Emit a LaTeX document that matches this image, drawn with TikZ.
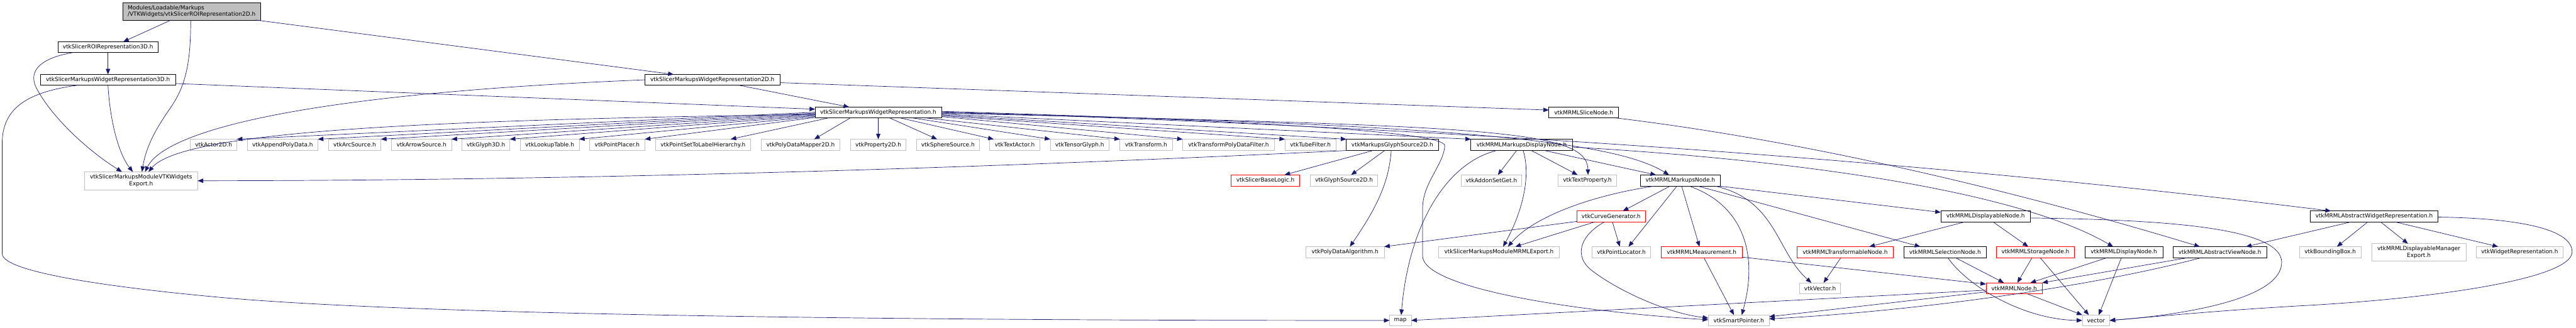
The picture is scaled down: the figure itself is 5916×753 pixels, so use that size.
\documentclass[tikz,border=0pt]{standalone}
\usepackage{fontspec}
\usetikzlibrary{arrows.meta}
\newfontfamily\dfont{DejaVu Sans}
\definecolor{edgec}{HTML}{191970}
\definecolor{grayc}{HTML}{BFBFBF}
\definecolor{rootfill}{HTML}{BFBFBF}
\definecolor{redc}{HTML}{FF0000}
\newcommand{\mkn}[7]{\node[#1, minimum width={(#5-#3)*0.75pt}, minimum height={(#6-#4)*0.75pt}] (#2) at ({(#3+#5)/2},{(#4+#6)/2}) {#7};}
\tikzset{
  base/.style={rectangle, inner sep=0pt, outer sep=0pt, line width=0.75pt, text=black, align=center,
    font={\dfont\fontsize{9.7}{11.6}\selectfont}},
  blk/.style={base, draw=black},
  gry/.style={base, draw=grayc},
  redbox/.style={base, draw=redc},
  root/.style={base, draw=black, fill=rootfill, align=left},
  dep/.style={draw=edgec, line width=0.75pt, -{Triangle[length=9.5pt,width=7.5pt]}, edgec}
}
\begin{document}
\begin{tikzpicture}[x=0.75pt,y=-0.75pt]
\fill[white] (0,0) rectangle (5916,753);
\useasboundingbox (0,0) rectangle (5916,753);
% ---- nodes
\mkn{root}{T}{282}{6}{598}{46}{Modules/Loadable/Markups\\/VTKWidgets/vtkSlicerROIRepresentation2D.h}
\mkn{blk}{ROI3D}{133}{96}{363}{121}{vtkSlicerROIRepresentation3D.h}
\mkn{blk}{W3D}{93}{171}{403}{196}{vtkSlicerMarkupsWidgetRepresentation3D.h}
\mkn{blk}{W2D}{1481}{171}{1791}{196}{vtkSlicerMarkupsWidgetRepresentation2D.h}
\mkn{blk}{WR}{1872}{246}{2162}{271}{vtkSlicerMarkupsWidgetRepresentation.h}
\mkn{blk}{SLN}{3557}{246}{3717}{271}{vtkMRMLSliceNode.h}
% leaf row
\mkn{gry}{ACT}{437}{320}{544}{346}{vtkActor2D.h}
\mkn{gry}{APD}{568}{320}{730}{346}{vtkAppendPolyData.h}
\mkn{gry}{ARC}{754}{320}{875}{346}{vtkArcSource.h}
\mkn{gry}{ARW}{899}{320}{1037}{346}{vtkArrowSource.h}
\mkn{gry}{GL3}{1061}{320}{1171}{346}{vtkGlyph3D.h}
\mkn{gry}{LUT}{1195}{320}{1330}{346}{vtkLookupTable.h}
\mkn{gry}{PPL}{1354}{320}{1481}{346}{vtkPointPlacer.h}
\mkn{gry}{PSL}{1505}{320}{1724}{346}{vtkPointSetToLabelHierarchy.h}
\mkn{gry}{PDM}{1748}{320}{1929}{346}{vtkPolyDataMapper2D.h}
\mkn{gry}{PR2}{1953}{320}{2081}{346}{vtkProperty2D.h}
\mkn{gry}{SPH}{2105}{320}{2249}{346}{vtkSphereSource.h}
\mkn{gry}{TXA}{2273}{320}{2388}{346}{vtkTextActor.h}
\mkn{gry}{TEN}{2412}{320}{2547}{346}{vtkTensorGlyph.h}
\mkn{gry}{TRF}{2572}{320}{2692}{346}{vtkTransform.h}
\mkn{gry}{TPF}{2716}{320}{2927}{346}{vtkTransformPolyDataFilter.h}
\mkn{gry}{TUB}{2951}{320}{3068}{346}{vtkTubeFilter.h}
\mkn{blk}{MGS}{3092}{320}{3303}{346}{vtkMarkupsGlyphSource2D.h}
\mkn{blk}{MDN}{3378}{320}{3611}{346}{vtkMRMLMarkupsDisplayNode.h}
\mkn{gry}{EXP}{194}{395}{454}{436}{vtkSlicerMarkupsModuleVTKWidgets\\Export.h}
% row 402
\mkn{redbox}{SBL}{2827}{402}{2985}{428}{vtkSlicerBaseLogic.h}
\mkn{gry}{GS2}{3009}{402}{3164}{428}{vtkGlyphSource2D.h}
\mkn{gry}{ASG}{3355}{402}{3495}{428}{vtkAddonSetGet.h}
\mkn{gry}{TPR}{3578}{402}{3713}{428}{vtkTextProperty.h}
\mkn{blk}{MN}{3767}{402}{3951}{428}{vtkMRMLMarkupsNode.h}
% row 485
\mkn{redbox}{CG}{3621}{485}{3779}{510}{vtkCurveGenerator.h}
\mkn{blk}{DAN}{4457}{485}{4663}{510}{vtkMRMLDisplayableNode.h}
\mkn{blk}{AWR}{5306}{485}{5599}{510}{vtkMRMLAbstractWidgetRepresentation.h}
% row 567
\mkn{gry}{PDA}{2999}{567}{3179}{592}{vtkPolyDataAlgorithm.h}
\mkn{gry}{MEX}{3304}{567}{3581}{592}{vtkSlicerMarkupsModuleMRMLExport.h}
\mkn{gry}{PLC}{3656}{567}{3791}{592}{vtkPointLocator.h}
\mkn{redbox}{MEA}{3815}{567}{4001}{592}{vtkMRMLMeasurement.h}
\mkn{redbox}{TRN}{4127}{567}{4348}{592}{vtkMRMLTransformableNode.h}
\mkn{blk}{SEL}{4372}{567}{4562}{592}{vtkMRMLSelectionNode.h}
\mkn{redbox}{STO}{4585}{567}{4764}{592}{vtkMRMLStorageNode.h}
\mkn{blk}{DSN}{4788}{567}{4967}{592}{vtkMRMLDisplayNode.h}
\mkn{blk}{AVN}{4990}{567}{5206}{592}{vtkMRMLAbstractViewNode.h}
\mkn{gry}{BBX}{5281}{567}{5422}{592}{vtkBoundingBox.h}
\mkn{gry}{DME}{5447}{560}{5663}{600}{vtkMRMLDisplayableManager\\Export.h}
\mkn{gry}{WRP}{5687}{567}{5886}{592}{vtkWidgetRepresentation.h}
% row 650
\mkn{gry}{VEC}{4133}{650}{4227}{675}{vtkVector.h}
\mkn{redbox}{MRN}{4561}{650}{4690}{675}{vtkMRMLNode.h}
% row 724
\mkn{gry}{MAP}{3191}{724}{3241}{749}{map}
\mkn{gry}{SP}{3923}{724}{4063}{749}{vtkSmartPointer.h}
\mkn{gry}{VCT}{4782}{724}{4845}{749}{vector}
% ---- edges
\draw[dep] (T.south -| 393,0) -- (ROI3D.north -| 283,0);
\draw[dep] (T.south -| 438,0) .. controls (438,150) and (425,200) .. (390,250) .. controls (355,300) and (335,340) .. (EXP.north -| 326,0);
\draw[dep] (T.south -| 587,0) -- (W2D.north -| 1547,0);
\draw[dep] (ROI3D.south) -- (W3D.north);
\draw[dep] (ROI3D.south -| 167,0) .. controls (100,132) and (60,160) .. (85,205) .. controls (120,270) and (200,345) .. (EXP.north -| 280,0);
\draw[dep] (W3D.south) .. controls (252,270) and (270,350) .. (EXP.north -| 305,0);
\draw[dep] (W3D.south -| 178,0) .. controls (60,212) and (5,250) .. (5,330) -- (5,583) .. controls (5,625) and (250,660) .. (500,683) .. controls (1000,729) and (2300,737) .. (MAP.west);
\draw[dep] (W3D.east |- 0,192) -- (WR.west |- 0,251);
\draw[dep] (W2D.west) .. controls (700,215) and (380,300) .. (EXP.north -| 333,0);
\draw[dep] (WR.west |- 0,263) .. controls (1000,275) and (420,300) .. (EXP.north -| 341,0);
\draw[dep] (MGS.south west) .. controls (2500,375) and (1500,415) .. (EXP.east);
\draw[dep] (W2D.east |- 0,190) -- (SLN.west |- 0,253);
\draw[dep] (W2D.south -| 1697,0) -- (WR.north -| 1950,0);
% WR to leaves
\foreach \n/\y in {ACT/258, APD/260, ARC/262, ARW/264, GL3/266, LUT/268, PPL/270}
  \draw[dep] (WR.west |- 0,\y) -- (\n.north east);
\draw[dep] (WR.south -| 1903,0) -- (PSL.north -| 1678,0);
\draw[dep] (WR.south -| 1953,0) -- (PDM.north -| 1870,0);
\draw[dep] (WR.south -| 2017,0) -- (PR2.north -| 2017,0);
\draw[dep] (WR.south -| 2043,0) -- (SPH.north -| 2152,0);
\draw[dep] (WR.south -| 2067,0) -- (TXA.north -| 2282,0);
\draw[dep] (WR.south -| 2095,0) -- (TEN.north west);
\draw[dep] (WR.south -| 2125,0) -- (TRF.north west);
\draw[dep] (WR.east |- 0,268) -- (TPF.north west);
\draw[dep] (WR.east |- 0,266) -- (TUB.north west);
\draw[dep] (WR.east |- 0,264) -- (MGS.north west);
\draw[dep] (WR.east |- 0,262) -- (MDN.north west);
\draw[dep] (WR.east |- 0,260) .. controls (3400,290) and (3645,295) .. (TPR.north -| 3647,0);
\draw[dep] (WR.east |- 0,259) .. controls (3300,285) and (3700,320) .. (MN.north -| 3833,0);
\draw[dep] (WR.east |- 0,257) .. controls (3500,300) and (4500,380) .. (AWR.north -| 5353,0);
\draw[dep] (WR.east |- 0,256) .. controls (2800,275) and (3320,300) .. (3318,335) .. controls (3315,380) and (3267,420) .. (3267,480) -- (3267,588) .. controls (3267,660) and (3600,715) .. (SP.west |- 0,735);
% MGS
\draw[dep] (MGS.south -| 3153,0) -- (SBL.north -| 2950,0);
\draw[dep] (MGS.south -| 3180,0) -- (GS2.north -| 3103,0);
\draw[dep] (MGS.south -| 3195,0) .. controls (3190,420) and (3160,480) .. (PDA.north -| 3100,0);
% MDN
\draw[dep] (MDN.south -| 3437,0) .. controls (3320,375) and (3235,520) .. (MAP.north -| 3218,0);
\draw[dep] (MDN.south -| 3483,0) -- (ASG.north -| 3440,0);
\draw[dep] (MDN.south -| 3498,0) .. controls (3515,400) and (3500,480) .. (MEX.north -| 3452,0);
\draw[dep] (MDN.south -| 3517,0) -- (TPR.north -| 3623,0);
\draw[dep] (MDN.south -| 3547,0) -- (MN.north -| 3803,0);
\draw[dep] (MDN.east |- 0,338) .. controls (4000,360) and (4600,420) .. (DSN.north -| 4853,0);
% slice
\draw[dep] (SLN.south -| 3710,0) .. controls (4200,330) and (4700,460) .. (AVN.north -| 5052,0);
% MN
\draw[dep] (MN.south -| 3798,0) .. controls (3650,450) and (3520,500) .. (MEX.north -| 3463,0);
\draw[dep] (MN.south -| 3835,0) -- (CG.north -| 3727,0);
\draw[dep] (MN.south -| 3851,0) -- (PLC.north -| 3740,0);
\draw[dep] (MN.south -| 3862,0) -- (MEA.north -| 3903,0);
\draw[dep] (MN.south -| 3880,0) .. controls (4000,470) and (4040,580) .. (SP.north -| 4000,0);
\draw[dep] (MN.south -| 3900,0) -- (SEL.north -| 4410,0);
\draw[dep] (MN.south -| 3940,0) .. controls (4080,460) and (4080,580) .. (VEC.north -| 4160,0);
\draw[dep] (MN.south east) -- (DAN.west |- 0,488);
% CG
\draw[dep] (CG.west |- 0,509) -- (PDA.north east);
\draw[dep] (CG.south -| 3663,0) -- (MEX.north -| 3480,0);
\draw[dep] (CG.south -| 3703,0) -- (PLC.north -| 3720,0);
\draw[dep] (CG.south -| 3685,0) .. controls (3630,540) and (3610,590) .. (3660,625) .. controls (3720,670) and (3830,720) .. (SP.west |- 0,731);
% MEA
\draw[dep] (MEA.south -| 3913,0) -- (SP.north -| 3982,0);
\draw[dep] (MEA.east |- 0,591) -- (MRN.west |- 0,653);
% TRN
\draw[dep] (TRN.south -| 4228,0) -- (VEC.north -| 4188,0);
% DAN
\draw[dep] (DAN.south -| 4513,0) -- (TRN.north -| 4293,0);
\draw[dep] (DAN.south -| 4577,0) -- (STO.north -| 4658,0);
\draw[dep] (DAN.east |- 0,501) .. controls (4950,505) and (5240,520) .. (5240,603) .. controls (5240,690) and (5000,725) .. (VCT.east);
% SEL, STO, DSN
\draw[dep] (SEL.south -| 4490,0) -- (MRN.north -| 4602,0);
\draw[dep] (SEL.south -| 4473,0) .. controls (4520,660) and (4650,735) .. (VCT.west);
\draw[dep] (STO.south -| 4667,0) -- (MRN.north -| 4633,0);
\draw[dep] (STO.south -| 4685,0) -- (VCT.north -| 4797,0);
\draw[dep] (DSN.south -| 4840,0) -- (MRN.north -| 4663,0);
\draw[dep] (DSN.south -| 4872,0) -- (VCT.north -| 4820,0);
% MRN
\draw[dep] (MRN.south -| 4655,0) -- (VCT.north west);
\draw[dep] (MRN.west |- 0,667) -- (MAP.east);
\draw[dep] (MRN.west |- 0,671) -- (SP.east |- 0,728);
% AVN
\draw[dep] (AVN.south -| 5027,0) -- (MRN.north east);
\draw[dep] (AVN.south -| 5057,0) .. controls (4800,660) and (4400,715) .. (SP.east |- 0,733);
% AWR
\draw[dep] (AWR.south -| 5400,0) -- (AVN.north -| 5158,0);
\draw[dep] (AWR.south -| 5438,0) -- (BBX.north -| 5367,0);
\draw[dep] (AWR.south -| 5467,0) -- (DME.north -| 5530,0);
\draw[dep] (AWR.south -| 5500,0) -- (WRP.north -| 5737,0);
\draw[dep] (AWR.east |- 0,499) .. controls (5800,502) and (5907,530) .. (5907,579) .. controls (5907,640) and (5600,685) .. (5300,702) .. controls (5100,713) and (4950,728) .. (VCT.east);
\end{tikzpicture}
\end{document}
